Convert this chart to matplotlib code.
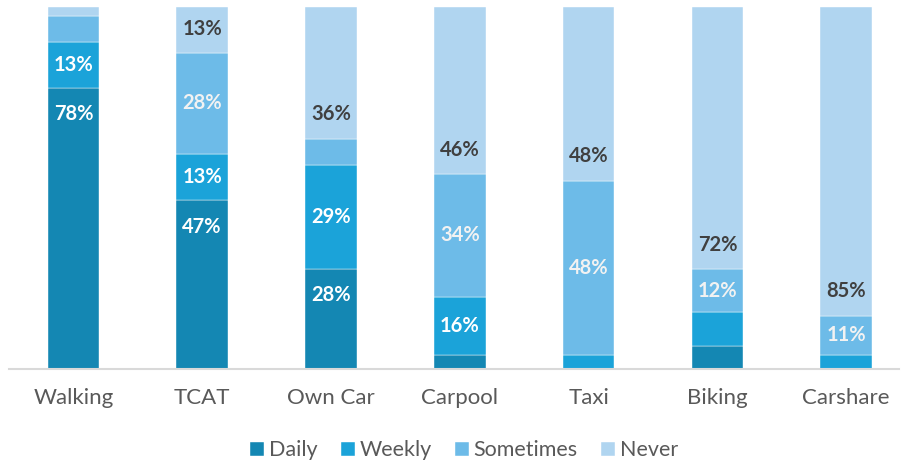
import numpy as np
import matplotlib.pyplot as plt

plt.rcParams['font.family'] = ['Lato', 'DejaVu Sans']

# values (percent of respondents)
modes = ["Walking", "TCAT", "Own Car", "Carpool", "Taxi", "Biking", "Carshare"]
daily = [77.6, 46.6, 27.6, 3.9, 0.0, 6.3, 0.0]
weekly = [12.8, 12.8, 28.7, 16.1, 4.0, 9.4, 3.9]
sometimes = [7.2, 27.9, 7.3, 33.9, 48.0, 11.9, 10.8]
never = [2.4, 12.7, 36.4, 46.1, 48.0, 72.4, 85.3]

series = ["Daily", "Weekly", "Sometimes", "Never"]
colors = ["#1487B3", "#1BA3D9", "#6DBBE8", "#B0D5F0"]
label_colors = ["white", "white", "#F2F2F2", "#404040"]
# vertical placement of the value label inside each segment
label_pos = ["end", "center", "center", "base"]

fig = plt.figure(figsize=(9.01, 4.63), dpi=100)
ax = fig.add_axes([9 / 901, 94 / 463, 890 / 901, 362 / 463])

x = np.arange(len(modes))
width = 0.4
bottom = np.zeros(len(modes))
for name, vals, col, lc, pos in zip(series, [daily, weekly, sometimes, never],
                                    colors, label_colors, label_pos):
    vals = np.array(vals)
    ax.bar(x, vals, width, bottom=bottom, color=col, label=name,
           edgecolor="white", linewidth=0.3)
    for xi, b, v in zip(x, bottom, vals):
        if v < 10:
            continue
        if pos == "end":
            y, off = b + v, -19
        elif pos == "base":
            y, off = b, 17.5
        else:
            y, off = b + v / 2, 0
        ax.annotate(f"{v:.0f}%", (xi, y), xytext=(0, off),
                    textcoords="offset points", ha="center", va="center",
                    color=lc, fontsize=14.5, fontweight="bold")
    bottom += vals

ax.set_xlim(-0.5, 6.41)
ax.set_ylim(0, 100)
ax.set_yticks([])
ax.set_xticks(x)
ax.set_xticklabels(modes, fontsize=16, color="#595959")
ax.tick_params(axis="x", length=0, pad=14)
for s in ["top", "right", "left"]:
    ax.spines[s].set_visible(False)
ax.spines["bottom"].set_color("#D9D9D9")
ax.spines["bottom"].set_linewidth(1.5)

leg = fig.legend(loc="center", bbox_to_anchor=(0.515, 0.027), ncol=4,
                 frameon=False, fontsize=15.5, handlelength=0.65,
                 handleheight=0.65, handletextpad=0.2, columnspacing=1.1)
for t in leg.get_texts():
    t.set_color("#595959")

fig.savefig("out.png", dpi=100)
